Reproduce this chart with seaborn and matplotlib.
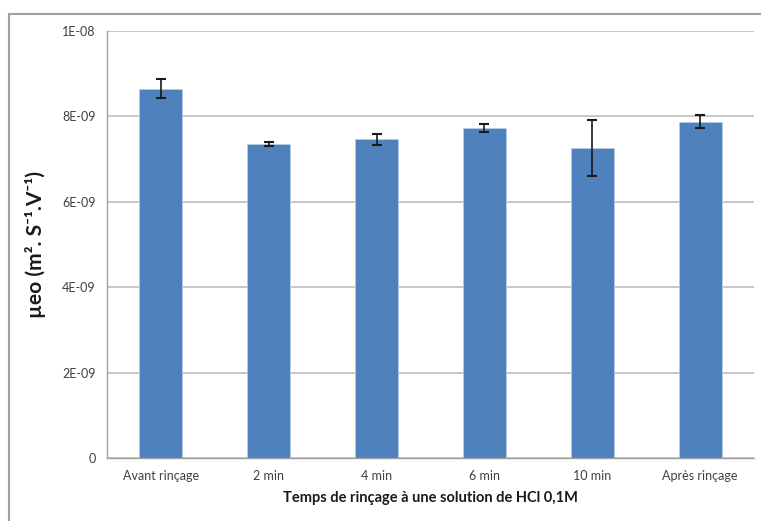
import matplotlib
matplotlib.use("Agg")
import matplotlib.pyplot as plt
import seaborn as sns
import pandas as pd
import numpy as np
from matplotlib.patches import Rectangle

categories = ["Avant rinçage", "2 min", "4 min", "6 min", "10 min", "Après rinçage"]
values = [8.65e-9, 7.35e-9, 7.46e-9, 7.73e-9, 7.26e-9, 7.88e-9]
errors = [0.22e-9, 0.05e-9, 0.13e-9, 0.10e-9, 0.66e-9, 0.15e-9]
yticks = [0, 2e-9, 4e-9, 6e-9, 8e-9, 1e-8]
ytick_labels = ["0", "2E-09", "4E-09", "6E-09", "8E-09", "1E-08"]

sns.set_style("white")
plt.rcParams['font.family'] = ['Lato', 'DejaVu Sans']

fig = plt.figure(figsize=(7.61, 5.21), dpi=100)
ax = fig.add_axes([107/761, 1-458/521, (754-107)/761, (458-31)/521])

df = pd.DataFrame({"cat": categories, "val": values})
sns.barplot(data=df, x="cat", y="val", ax=ax, color="#4F81BD", saturation=1,
            width=0.4, edgecolor="#B9CDE5", linewidth=0.6, errorbar=None)
ax.errorbar(np.arange(len(categories)), values, yerr=errors, fmt="none",
            ecolor="#1a1a1a", elinewidth=1.2, capsize=3.5, capthick=1.5, zorder=5)

ax.set_ylim(0, 1e-8)
ax.set_xlim(-0.5, len(categories) - 0.5)
ax.set_yticks(yticks)
ax.set_yticklabels(ytick_labels, fontsize=9, color="#404040")
ax.set_xticks(np.arange(len(categories)))
ax.set_xticklabels(categories, fontsize=9, color="#404040")
ax.set_xticks(np.arange(len(categories) + 1) - 0.5, minor=True)
ax.tick_params(axis="x", which="major", length=0, pad=9)
ax.tick_params(axis="x", which="minor", length=5, color="#A0A0A0", width=1, direction="out")
ax.tick_params(axis="y", which="major", length=4, color="#A0A0A0", width=1, direction="out", pad=4)

ax.yaxis.grid(True, color="#BEBEBE", linewidth=1.2)
ax.set_axisbelow(True)
for s in ["top", "right"]:
    ax.spines[s].set_visible(False)
ax.spines["left"].set_color("#A0A0A0")
ax.spines["bottom"].set_color("#A0A0A0")
ax.spines["left"].set_linewidth(1)
ax.spines["bottom"].set_linewidth(1)

ax.set_xlabel("Temps de rinçage à une solution de HCl 0,1M", fontsize=10.5,
              fontweight="bold", color="#1a1a1a", labelpad=6)
ax.set_ylabel("µeo (m². S⁻¹.V⁻¹)", fontsize=15, fontweight="bold",
              color="#1a1a1a", labelpad=12)

# outer chart frame
fig.patches.append(Rectangle((9/761, -0.05), 1.2, 1 - 14/521 + 0.05,
                             transform=fig.transFigure, fill=False,
                             edgecolor="#A0A0A0", linewidth=1.5))

fig.savefig("out.png", dpi=100)
